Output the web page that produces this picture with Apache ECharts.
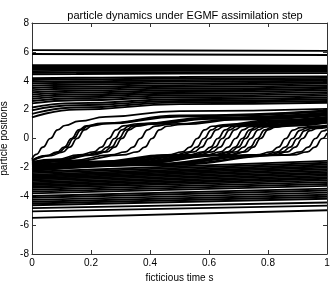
<!DOCTYPE html>
<html>
<head>
<meta charset="utf-8">
<script src="https://cdn.jsdelivr.net/npm/echarts@6/dist/echarts.min.js"></script>
<style>html,body{margin:0;padding:0;background:#fff}#c{width:332px;height:283px}</style>
</head>
<body>
<div id="c"></div>
<script>
// ---- data ----
const titleText = 'particle dynamics under EGMF assimilation step';
const xName = 'ficticious time s';
const yName = 'particle positions';
const xTicks = [0, 0.2, 0.4, 0.6, 0.8, 1];
const yTicks = [-8, -6, -4, -2, 0, 2, 4, 6, 8];

// two isolated particles at the top (times 0, 0.5, 1)
const topTimes = [0, 0.5, 1];
const topLines = [
  [6.12, 6.1, 6.07],
  [5.85, 5.82, 5.78]
];

// upper cluster (times 0, 0.15, 0.5, 1)
const bandTimes = [0, 0.15, 0.5, 1];
const upperBand = [
  [5.08, 5.08, 5.07, 5.05],
  [4.98, 4.98, 4.97, 4.96],
  [4.88, 4.88, 4.88, 4.88],
  [4.78, 4.79, 4.8, 4.8],
  [4.67, 4.69, 4.7, 4.72],
  [4.55, 4.57, 4.6, 4.63],
  [4.45, 4.47, 4.5, 4.53],
  [4.17, 4.21, 4.26, 4.3],
  [4.05, 4.1, 4.15, 4.2],
  [3.92, 3.97, 4.04, 4.1],
  [3.8, 3.86, 3.94, 4.0],
  [3.65, 3.72, 3.82, 3.9],
  [3.5, 3.58, 3.7, 3.8],
  [3.35, 3.45, 3.58, 3.68],
  [3.2, 3.31, 3.46, 3.57],
  [3.05, 3.18, 3.34, 3.45],
  [2.9, 3.05, 3.22, 3.33],
  [2.75, 2.92, 3.1, 3.21],
  [2.6, 2.79, 2.98, 3.09],
  [2.43, 2.65, 2.86, 2.97],
  [2.15, 2.45, 2.72, 2.84],
  [1.95, 2.3, 2.6, 2.72],
  [1.7, 2.15, 2.5, 2.6],
  [1.46, 2.0, 2.38, 2.48]
];

// lower cluster (times 0, 1)
const lowTimes = [0, 1];
const lowerBand = [
  [-2.3, -1.55], [-2.4, -1.68], [-2.5, -1.8], [-2.58, -1.92], [-2.66, -2.02],
  [-2.74, -2.13], [-2.82, -2.24], [-2.92, -2.35], [-3.02, -2.46], [-3.12, -2.57],
  [-3.22, -2.68], [-3.32, -2.79], [-3.42, -2.9], [-3.55, -3.02], [-3.68, -3.15],
  [-3.8, -3.28], [-3.98, -3.47], [-4.1, -3.6], [-4.25, -3.75], [-4.38, -3.9],
  [-4.5, -4.03], [-4.62, -4.17], [-4.82, -4.43], [-5.05, -4.65], [-5.5, -4.97]
];

// particles that jump from the lower to the upper mode ([time, position] pairs)
const jumpers = [
  [[0,-1.42],[0.015,-1.1],[0.037,-0.6],[0.062,0],[0.087,0.6],[0.112,0.9],[0.16,1.2],[0.25,1.5],[0.5,1.9],[1,2.05]],
  [[0,-1.5],[0.05,-1.18],[0.084,-0.95],[0.109,-0.6],[0.134,0],[0.159,0.6],[0.184,0.88],[0.234,1.05],[0.5,1.6],[1,1.95]],
  [[0,-1.53],[0.055,-1.18],[0.091,-0.95],[0.116,-0.6],[0.141,0],[0.166,0.6],[0.191,0.88],[0.241,1.04],[0.5,1.56],[1,1.92]],
  [[0,-1.57],[0.065,-1.18],[0.103,-0.95],[0.128,-0.6],[0.153,0],[0.178,0.6],[0.203,0.88],[0.253,1.03],[0.5,1.52],[1,1.88]],
  [[0,-1.62],[0.08,-1.45],[0.16,-1.14],[0.21,-0.93],[0.235,-0.6],[0.26,0],[0.285,0.6],[0.31,0.88],[0.36,1.02],[0.6,1.45],[1,1.8]],
  [[0,-1.65],[0.09,-1.47],[0.18,-1.14],[0.23,-0.93],[0.255,-0.6],[0.28,0],[0.305,0.6],[0.33,0.87],[0.38,1.01],[0.6,1.42],[1,1.77]],
  [[0,-1.68],[0.097,-1.48],[0.194,-1.14],[0.244,-0.93],[0.269,-0.6],[0.294,0],[0.319,0.6],[0.344,0.87],[0.394,1.0],[0.6,1.38],[1,1.74]],
  [[0,-1.71],[0.1,-1.5],[0.205,-1.14],[0.255,-0.93],[0.28,-0.6],[0.305,0],[0.33,0.6],[0.355,0.86],[0.405,0.99],[0.6,1.35],[1,1.71]],
  [[0,-1.75],[0.133,-1.53],[0.267,-1.14],[0.317,-0.93],[0.342,-0.6],[0.367,0],[0.392,0.6],[0.417,0.86],[0.467,0.99],[0.7,1.35],[1,1.65]],
  [[0,-1.78],[0.153,-1.55],[0.307,-1.14],[0.357,-0.93],[0.382,-0.6],[0.407,0],[0.432,0.6],[0.457,0.85],[0.507,0.98],[0.7,1.3],[1,1.6]],
  [[0,-1.83],[0.23,-1.58],[0.46,-1.14],[0.51,-0.93],[0.535,-0.6],[0.56,0],[0.585,0.6],[0.61,0.85],[0.66,0.97],[0.8,1.26],[1,1.5]],
  [[0,-1.86],[0.24,-1.6],[0.483,-1.14],[0.533,-0.93],[0.558,-0.6],[0.583,0],[0.608,0.6],[0.633,0.85],[0.683,0.96],[0.82,1.24],[1,1.47]],
  [[0,-1.89],[0.25,-1.62],[0.5,-1.14],[0.55,-0.93],[0.575,-0.6],[0.6,0],[0.625,0.6],[0.65,0.84],[0.7,0.96],[0.84,1.21],[1,1.44]],
  [[0,-1.92],[0.265,-1.64],[0.53,-1.14],[0.58,-0.93],[0.605,-0.6],[0.63,0],[0.655,0.6],[0.68,0.84],[0.73,0.95],[0.86,1.17],[1,1.38]],
  [[0,-1.95],[0.27,-1.66],[0.545,-1.14],[0.595,-0.93],[0.62,-0.6],[0.645,0],[0.67,0.6],[0.695,0.83],[0.745,0.95],[0.87,1.15],[1,1.35]],
  [[0,-1.98],[0.28,-1.68],[0.562,-1.14],[0.612,-0.93],[0.637,-0.6],[0.662,0],[0.687,0.6],[0.712,0.83],[0.762,0.94],[0.88,1.13],[1,1.32]],
  [[0,-2.01],[0.295,-1.7],[0.59,-1.14],[0.64,-0.93],[0.665,-0.6],[0.69,0],[0.715,0.6],[0.74,0.82],[0.79,0.93],[0.9,1.09],[1,1.27]],
  [[0,-2.04],[0.306,-1.72],[0.613,-1.14],[0.663,-0.93],[0.688,-0.6],[0.713,0],[0.738,0.6],[0.763,0.82],[0.813,0.92],[0.9,1.05],[1,1.23]],
  [[0,-2.06],[0.312,-1.73],[0.624,-1.14],[0.674,-0.93],[0.699,-0.6],[0.724,0],[0.749,0.6],[0.774,0.81],[0.824,0.91],[0.91,1.04],[1,1.2]],
  [[0,-2.08],[0.32,-1.75],[0.642,-1.14],[0.692,-0.93],[0.717,-0.6],[0.742,0],[0.767,0.6],[0.792,0.8],[0.842,0.9],[1,1.16]],
  [[0,-2.1],[0.33,-1.76],[0.664,-1.14],[0.714,-0.93],[0.739,-0.6],[0.764,0],[0.789,0.6],[0.814,0.79],[0.864,0.89],[1,1.12]],
  [[0,-2.12],[0.337,-1.77],[0.675,-1.14],[0.725,-0.93],[0.75,-0.6],[0.775,0],[0.8,0.6],[0.825,0.78],[0.875,0.88],[1,1.08]],
  [[0,-2.14],[0.38,-1.78],[0.76,-1.14],[0.81,-0.93],[0.835,-0.6],[0.86,0],[0.885,0.58],[0.91,0.76],[0.96,0.86],[1,0.92]],
  [[0,-2.16],[0.39,-1.8],[0.783,-1.14],[0.833,-0.93],[0.858,-0.6],[0.883,0],[0.908,0.56],[0.933,0.74],[0.983,0.84],[1,0.86]],
  [[0,-2.18],[0.4,-1.81],[0.8,-1.14],[0.85,-0.93],[0.875,-0.6],[0.9,0],[0.925,0.55],[0.95,0.72],[1,0.82]],
  [[0,-2.2],[0.41,-1.82],[0.817,-1.14],[0.867,-0.93],[0.892,-0.6],[0.917,0],[0.942,0.54],[0.967,0.7],[1,0.77]],
  [[0,-2.22],[0.43,-1.84],[0.861,-1.14],[0.911,-0.93],[0.936,-0.6],[0.961,0],[0.986,0.52],[1,0.62]],
  [[0,-2.24],[0.44,-1.85],[0.884,-1.14],[0.934,-0.93],[0.959,-0.6],[0.984,0],[1,0.38]]
];

// ---- build series ----
const FONT = 'Liberation Sans, Arial, Helvetica, sans-serif';
const series = [];
function addLine(points, width) {
  series.push({
    type: 'line', data: points, showSymbol: false, symbol: 'none',
    smooth: 0.5, smoothMonotone: 'x', silent: true, animation: false,
    lineStyle: { color: '#000', width: width }, z: 2
  });
}
topLines.forEach(v => addLine(topTimes.map((t, i) => [t, v[i]]), 1.9));
upperBand.forEach(v => addLine(bandTimes.map((t, i) => [t, v[i]]), 1.9));
lowerBand.forEach(v => addLine(lowTimes.map((t, i) => [t, v[i]]), 1.9));
jumpers.forEach(p => addLine(p, 1.7));

const axisCommon = {
  type: 'value',
  axisLine: { show: true, onZero: false, lineStyle: { color: '#333', width: 1 } },
  axisTick: { show: true, inside: true, length: 4, lineStyle: { color: '#333' } },
  splitLine: { show: false },
  axisLabel: { color: '#000', fontFamily: FONT, fontSize: 10 }
};

const chart = echarts.init(document.getElementById('c'), null, { renderer: 'canvas' });
chart.setOption({
  animation: false,
  backgroundColor: '#fff',
  title: {
    text: titleText, left: 180, top: 5, textAlign: 'center',
    textStyle: { fontFamily: FONT, fontSize: 11, fontWeight: 'normal', color: '#000' }
  },
  grid: { left: 32, right: 5, top: 23, bottom: 29, containLabel: false, outerBoundsMode: 'none' },
  xAxis: [
    Object.assign({}, axisCommon, {
      position: 'bottom', min: xTicks[0], max: xTicks[xTicks.length - 1], interval: 0.2,
      name: xName, nameLocation: 'middle', nameGap: 18,
      nameTextStyle: { fontFamily: FONT, fontSize: 10, color: '#000' },
      axisLabel: Object.assign({}, axisCommon.axisLabel, { margin: 4 })
    }),
    Object.assign({}, axisCommon, {
      position: 'top', min: xTicks[0], max: xTicks[xTicks.length - 1], interval: 0.2,
      axisLabel: { show: false }
    })
  ],
  yAxis: [
    Object.assign({}, axisCommon, {
      position: 'left', min: yTicks[0], max: yTicks[yTicks.length - 1], interval: 2,
      name: yName, nameLocation: 'middle', nameGap: 17,
      nameTextStyle: { fontFamily: FONT, fontSize: 10, color: '#000' },
      axisLabel: Object.assign({}, axisCommon.axisLabel, { margin: 3 })
    }),
    Object.assign({}, axisCommon, {
      position: 'right', min: yTicks[0], max: yTicks[yTicks.length - 1], interval: 2,
      axisLabel: { show: false }
    })
  ],
  series: series
});
</script>
</body>
</html>
